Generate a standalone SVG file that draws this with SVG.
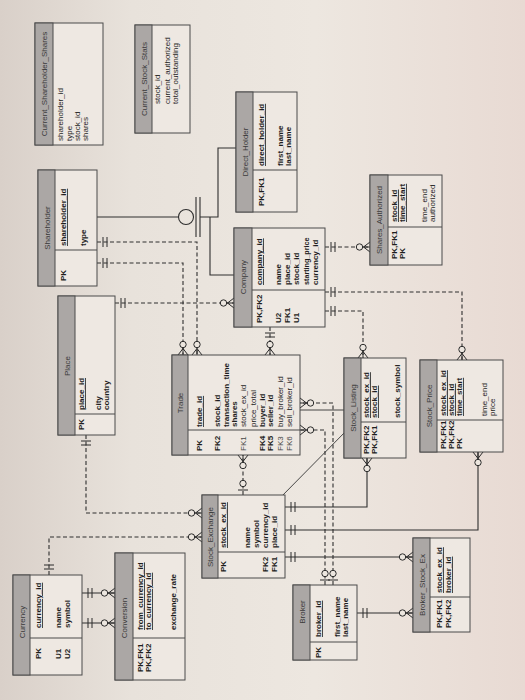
<svg xmlns="http://www.w3.org/2000/svg" width="525" height="700" viewBox="0 0 525 700">
<defs>
<style>
.t{font-family:"Liberation Sans",Arial,sans-serif;font-size:8px;fill:#1e1e1e}
.b{font-weight:bold}
.u{text-decoration:underline;font-weight:bold}
.l{fill:#4a4a4a}
.s{font-size:7.2px}
.n{font-family:"Liberation Sans",Arial,sans-serif;font-size:8px;fill:#3a3a3a;text-anchor:middle}
.box{fill:#eee8e2;stroke:#4a4a4a;stroke-width:1}
.hd{fill:#aba7a5;stroke:#4a4a4a;stroke-width:1}
.dv{stroke:#4a4a4a;stroke-width:1}
.c{fill:none;stroke:#2e2e2e;stroke-width:1.1}
.d{stroke-dasharray:4 2.5}
.pen{fill:none;stroke:#333;stroke-width:0.9}
</style>
<linearGradient id="paper" x1="0" y1="0" x2="1" y2="0">
<stop offset="0" stop-color="#d9d0c9"/>
<stop offset="0.25" stop-color="#e8e2db"/>
<stop offset="0.6" stop-color="#ede7e0"/>
<stop offset="1" stop-color="#e8dad3"/>
</linearGradient>
<marker id="one" markerUnits="userSpaceOnUse" markerWidth="20" markerHeight="14" viewBox="0 0 20 14" refX="20" refY="7" orient="auto-start-reverse">
<path d="M10 2V12M14 2V12" stroke="#2a2a2a" stroke-width="1" fill="none"/>
</marker>
<marker id="zm" markerUnits="userSpaceOnUse" markerWidth="20" markerHeight="14" viewBox="0 0 20 14" refX="20" refY="7" orient="auto-start-reverse">
<path d="M13.5 7L20 2M13.5 7L20 12M13 7H20" stroke="#2a2a2a" stroke-width="1" fill="none"/>
<circle cx="9.5" cy="7" r="3.2" fill="#ece6df" stroke="#2a2a2a" stroke-width="1"/>
</marker>
<marker id="zo" markerUnits="userSpaceOnUse" markerWidth="20" markerHeight="14" viewBox="0 0 20 14" refX="20" refY="7" orient="auto-start-reverse">
<path d="M15 2V12" stroke="#2a2a2a" stroke-width="1" fill="none"/>
<circle cx="8.5" cy="7" r="3.2" fill="#ece6df" stroke="#2a2a2a" stroke-width="1"/>
</marker>
</defs>
<rect x="0" y="0" width="525" height="700" fill="url(#paper)"/>

<g id="connectors">
<path class="c" d="M82 593H115" marker-start="url(#one)" marker-end="url(#zm)"/>
<path class="c" d="M82 623H115" marker-start="url(#one)" marker-end="url(#zm)"/>
<path class="c d" d="M49 575V537H202" marker-start="url(#one)" marker-end="url(#zm)"/>
<path class="c d" d="M86 435V513H202" marker-start="url(#one)" marker-end="url(#zm)"/>
<path class="c d" d="M115 303H234" marker-start="url(#one)" marker-end="url(#zm)"/>
<path class="c d" d="M270 327V355" marker-start="url(#one)" marker-end="url(#zm)"/>
<path class="c d" d="M243 495V455" marker-start="url(#zo)" marker-end="url(#zm)"/>
<path class="c d" d="M333 585V403H300" marker-start="url(#zo)" marker-end="url(#zm)"/>
<path class="c d" d="M325 585V430H300" marker-start="url(#zo)" marker-end="url(#zm)"/>
<path class="c d" d="M325 247H370" marker-start="url(#one)" marker-end="url(#zm)"/>
<path class="c d" d="M325 292H462V360" marker-start="url(#one)" marker-end="url(#zm)"/>
<path class="c d" d="M325 311H363V358" marker-start="url(#one)" marker-end="url(#zm)"/>
<path class="c" d="M285 507H367V458" marker-start="url(#one)" marker-end="url(#zm)"/>
<path class="c" d="M285 530H478V452" marker-start="url(#one)" marker-end="url(#zm)"/>
<path class="c" d="M285 557H413" marker-start="url(#one)" marker-end="url(#zm)"/>
<path class="c" d="M357 613H413" marker-start="url(#one)" marker-end="url(#zm)"/>
<path class="c d" d="M97 263H183V355" marker-start="url(#one)" marker-end="url(#zm)"/>
<path class="c d" d="M97 242H197V355" marker-start="url(#one)" marker-end="url(#zm)"/>
<path class="c" d="M97 217H178.5"/>
<circle cx="186" cy="217" r="7.5" fill="none" stroke="#2e2e2e" stroke-width="1.1"/>
<path class="c" d="M196 197V237M200 197V237"/>
<path class="c" d="M200 217H218V148H236"/>
<path class="c" d="M210 217V275H234"/>
<path class="pen" d="M278 500L350 427"/>
<path class="pen" d="M300 410H344"/>
</g>

<g id="current_shareholder_shares">
<rect class="box" x="35" y="23" width="68" height="122"/>
<rect class="hd" x="35" y="23" width="18" height="122"/>
<text class="n" transform="translate(47,84) rotate(-90)">Current_Shareholder_Shares</text>
<text class="t" transform="translate(63,141) rotate(-90)">shareholder_id</text>
<text class="t" transform="translate(72,141) rotate(-90)">type</text>
<text class="t" transform="translate(80,141) rotate(-90)">stock_id</text>
<text class="t" transform="translate(88,141) rotate(-90)">shares</text>
</g>

<g id="current_stock_stats">
<rect class="box" x="135" y="25" width="55" height="108"/>
<rect class="hd" x="135" y="25" width="17" height="108"/>
<text class="n" transform="translate(146.5,79) rotate(-90)">Current_Stock_Stats</text>
<text class="t" transform="translate(160,104) rotate(-90)">stock_id</text>
<text class="t" transform="translate(170,104) rotate(-90)">current_authorized</text>
<text class="t" transform="translate(178,104) rotate(-90)">total_outstanding</text>
</g>

<g id="shareholder">
<rect class="box" x="38" y="170" width="59" height="116"/>
<rect class="hd" x="38" y="170" width="17" height="116"/>
<line class="dv" x1="55" y1="250" x2="97" y2="250"/>
<text class="n" transform="translate(49.5,228) rotate(-90)">Shareholder</text>
<text class="t b" transform="translate(66,281) rotate(-90)">PK</text>
<text class="t u" transform="translate(66,246) rotate(-90)">shareholder_id</text>
<text class="t b" transform="translate(86,246) rotate(-90)">type</text>
</g>

<g id="place">
<rect class="box" x="58" y="296" width="57" height="139"/>
<rect class="hd" x="58" y="296" width="17" height="139"/>
<line class="dv" x1="75" y1="414" x2="115" y2="414"/>
<text class="n" transform="translate(69.5,366) rotate(-90)">Place</text>
<text class="t b" transform="translate(84,430) rotate(-90)">PK</text>
<text class="t u" transform="translate(84,410) rotate(-90)">place_id</text>
<text class="t b" transform="translate(101,410) rotate(-90)">city</text>
<text class="t b" transform="translate(109,410) rotate(-90)">country</text>
</g>

<g id="direct_holder">
<rect class="box" x="236" y="92" width="61" height="120"/>
<rect class="hd" x="236" y="92" width="17" height="120"/>
<line class="dv" x1="253" y1="170" x2="297" y2="170"/>
<text class="n" transform="translate(247.5,152) rotate(-90)">Direct_Holder</text>
<text class="t b" transform="translate(264,206) rotate(-90)">PK,FK1</text>
<text class="t u" transform="translate(264,166) rotate(-90)">direct_holder_id</text>
<text class="t b" transform="translate(283,166) rotate(-90)">first_name</text>
<text class="t b" transform="translate(291,166) rotate(-90)">last_name</text>
</g>

<g id="company">
<rect class="box" x="234" y="228" width="91" height="99"/>
<rect class="hd" x="234" y="228" width="18" height="99"/>
<line class="dv" x1="252" y1="290" x2="325" y2="290"/>
<text class="n" transform="translate(246,277) rotate(-90)">Company</text>
<text class="t b" transform="translate(262,323) rotate(-90)">PK,FK2</text>
<text class="t b" transform="translate(281,323) rotate(-90)">U2</text>
<text class="t b" transform="translate(290,323) rotate(-90)">FK1</text>
<text class="t b" transform="translate(299,323) rotate(-90)">U1</text>
<text class="t u" transform="translate(262,285) rotate(-90)">company_id</text>
<text class="t b" transform="translate(281,285) rotate(-90)">name</text>
<text class="t b" transform="translate(290,285) rotate(-90)">place_id</text>
<text class="t b" transform="translate(299,285) rotate(-90)">stock_id</text>
<text class="t b s" transform="translate(309,285) rotate(-90)">starting_price</text>
<text class="t b" transform="translate(318,285) rotate(-90)">currency_id</text>
</g>

<g id="shares_authorized">
<rect class="box" x="370" y="175" width="72" height="90"/>
<rect class="hd" x="370" y="175" width="18" height="90"/>
<line class="dv" x1="388" y1="227" x2="442" y2="227"/>
<text class="n" transform="translate(382,220) rotate(-90)">Shares_Authorized</text>
<text class="t b" transform="translate(397,259) rotate(-90)">PK,FK1</text>
<text class="t b" transform="translate(405,259) rotate(-90)">PK</text>
<text class="t u" transform="translate(397,222) rotate(-90)">stock_id</text>
<text class="t u" transform="translate(405,222) rotate(-90)">time_start</text>
<text class="t" transform="translate(427,222) rotate(-90)">time_end</text>
<text class="t" transform="translate(435,222) rotate(-90)">authorized</text>
</g>

<g id="trade">
<rect class="box" x="172" y="355" width="128" height="100"/>
<rect class="hd" x="172" y="355" width="16" height="100"/>
<line class="dv" x1="188" y1="430" x2="300" y2="430"/>
<text class="n" transform="translate(183,403) rotate(-90)">Trade</text>
<text class="t b" transform="translate(202,451) rotate(-90)">PK</text>
<text class="t b" transform="translate(220,451) rotate(-90)">FK2</text>
<text class="t l" transform="translate(246,451) rotate(-90)">FK1</text>
<text class="t b" transform="translate(264.5,451) rotate(-90)">FK4</text>
<text class="t b" transform="translate(273,451) rotate(-90)">FK5</text>
<text class="t l" transform="translate(283,451) rotate(-90)">FK3</text>
<text class="t l" transform="translate(292,451) rotate(-90)">FK6</text>
<text class="t u" transform="translate(202,427) rotate(-90)">trade_id</text>
<text class="t b" transform="translate(220,427) rotate(-90)">stock_id</text>
<text class="t b" transform="translate(228.5,427) rotate(-90)">transaction_time</text>
<text class="t b" transform="translate(237,427) rotate(-90)">shares</text>
<text class="t" transform="translate(246,427) rotate(-90)">stock_ex_id</text>
<text class="t" transform="translate(256,427) rotate(-90)">price_total</text>
<text class="t b" transform="translate(264.5,427) rotate(-90)">buyer_id</text>
<text class="t b" transform="translate(273,427) rotate(-90)">seller_id</text>
<text class="t" transform="translate(283,427) rotate(-90)">buy_broker_id</text>
<text class="t" transform="translate(292,427) rotate(-90)">sell_broker_id</text>
</g>

<g id="stock_listing">
<rect class="box" x="344" y="358" width="62" height="100"/>
<rect class="hd" x="344" y="358" width="17" height="100"/>
<line class="dv" x1="361" y1="422" x2="406" y2="422"/>
<text class="n" transform="translate(355.5,408) rotate(-90)">Stock_Listing</text>
<text class="t b" transform="translate(369,454) rotate(-90)">PK,FK2</text>
<text class="t b" transform="translate(377,454) rotate(-90)">PK,FK1</text>
<text class="t u" transform="translate(369,418) rotate(-90)">stock_ex_id</text>
<text class="t u" transform="translate(377,418) rotate(-90)">stock_id</text>
<text class="t b" transform="translate(400,418) rotate(-90)">stock_symbol</text>
</g>

<g id="stock_price">
<rect class="box" x="420" y="360" width="83" height="92"/>
<rect class="hd" x="420" y="360" width="17" height="92"/>
<line class="dv" x1="437" y1="420" x2="503" y2="420"/>
<text class="n" transform="translate(431.5,406) rotate(-90)">Stock_Price</text>
<text class="t b" transform="translate(446,449) rotate(-90)">PK,FK1</text>
<text class="t b" transform="translate(454,449) rotate(-90)">PK,FK2</text>
<text class="t b" transform="translate(462,449) rotate(-90)">PK</text>
<text class="t u" transform="translate(446,416) rotate(-90)">stock_ex_id</text>
<text class="t u" transform="translate(454,416) rotate(-90)">stock_id</text>
<text class="t u" transform="translate(462,416) rotate(-90)">time_start</text>
<text class="t" transform="translate(487,416) rotate(-90)">time_end</text>
<text class="t" transform="translate(495,416) rotate(-90)">price</text>
</g>

<g id="stock_exchange">
<rect class="box" x="202" y="495" width="83" height="83"/>
<rect class="hd" x="202" y="495" width="16" height="83"/>
<line class="dv" x1="218" y1="552" x2="285" y2="552"/>
<text class="n" transform="translate(213,537) rotate(-90)">Stock_Exchange</text>
<text class="t b" transform="translate(226,572) rotate(-90)">PK</text>
<text class="t b" transform="translate(268,572) rotate(-90)">FK2</text>
<text class="t b" transform="translate(277,572) rotate(-90)">FK1</text>
<text class="t u" transform="translate(226,548) rotate(-90)">stock_ex_id</text>
<text class="t b" transform="translate(250,548) rotate(-90)">name</text>
<text class="t b" transform="translate(259,548) rotate(-90)">symbol</text>
<text class="t b" transform="translate(268,548) rotate(-90)">currency_id</text>
<text class="t b" transform="translate(277,548) rotate(-90)">place_id</text>
</g>

<g id="currency">
<rect class="box" x="13" y="575" width="69" height="100"/>
<rect class="hd" x="13" y="575" width="17" height="100"/>
<line class="dv" x1="30" y1="638" x2="82" y2="638"/>
<text class="n" transform="translate(24.5,622) rotate(-90)">Currency</text>
<text class="t b" transform="translate(41,659) rotate(-90)">PK</text>
<text class="t b" transform="translate(61,659) rotate(-90)">U1</text>
<text class="t b" transform="translate(70,659) rotate(-90)">U2</text>
<text class="t u" transform="translate(41,628) rotate(-90)">currency_id</text>
<text class="t b" transform="translate(61,628) rotate(-90)">name</text>
<text class="t b" transform="translate(70,628) rotate(-90)">symbol</text>
</g>

<g id="conversion">
<rect class="box" x="115" y="553" width="70" height="127"/>
<rect class="hd" x="115" y="553" width="18" height="127"/>
<line class="dv" x1="133" y1="638" x2="185" y2="638"/>
<text class="n" transform="translate(127,618) rotate(-90)">Conversion</text>
<text class="t b" transform="translate(143,672) rotate(-90)">PK,FK1</text>
<text class="t b" transform="translate(151,672) rotate(-90)">PK,FK2</text>
<text class="t u" transform="translate(143,630) rotate(-90)">from_currency_id</text>
<text class="t u" transform="translate(151,630) rotate(-90)">to_currency_id</text>
<text class="t b" transform="translate(176,630) rotate(-90)">exchange_rate</text>
</g>

<g id="broker">
<rect class="box" x="293" y="585" width="64" height="75"/>
<rect class="hd" x="293" y="585" width="17" height="75"/>
<line class="dv" x1="310" y1="642" x2="357" y2="642"/>
<text class="n" transform="translate(304.5,612) rotate(-90)">Broker</text>
<text class="t b" transform="translate(321,658) rotate(-90)">PK</text>
<text class="t u" transform="translate(321,637) rotate(-90)">broker_id</text>
<text class="t b" transform="translate(340,637) rotate(-90)">first_name</text>
<text class="t b" transform="translate(348,637) rotate(-90)">last_name</text>
</g>

<g id="broker_stock_ex">
<rect class="box" x="413" y="538" width="57" height="94"/>
<rect class="hd" x="413" y="538" width="17" height="94"/>
<line class="dv" x1="430" y1="597" x2="470" y2="597"/>
<text class="n" transform="translate(424.5,585) rotate(-90)">Broker_Stock_Ex</text>
<text class="t b" transform="translate(442,628) rotate(-90)">PK,FK1</text>
<text class="t b" transform="translate(451,628) rotate(-90)">PK,FK2</text>
<text class="t u" transform="translate(442,593) rotate(-90)">stock_ex_id</text>
<text class="t u" transform="translate(451,593) rotate(-90)">broker_id</text>
</g>
</svg>
